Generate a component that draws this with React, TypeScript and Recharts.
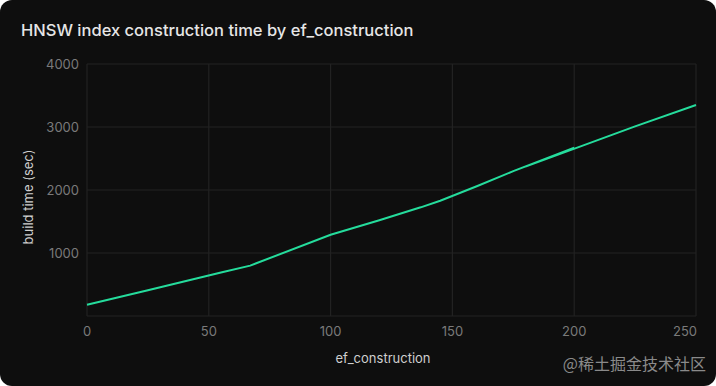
import { LineChart, Line, XAxis, YAxis, CartesianGrid } from 'recharts';

// ef_construction values, in the order the run logged them
const efValues = [0, 25, 55, 67, 100, 120, 137, 145, 160, 175, 200, 180, 225, 250];
// build time in seconds for each ef value above
const buildSeconds = [180, 410, 690, 800, 1290, 1520, 1725, 1830, 2060, 2300, 2670, 2372, 3010, 3350];

const xTicks = [0, 50, 100, 150, 200, 250];
const yTicks = [0, 1000, 2000, 3000, 4000];

const chartData = efValues.map((ef, i) => ({ ef, seconds: buildSeconds[i] }));

const tickColor = '#7a7a7a';
const gridColor = '#222222';

function XTick(props: any) {
  const { x, y, payload, index, visibleTicksCount } = props;
  const last = index === visibleTicksCount - 1;
  return (
    <text
      x={last ? x + 1 : x}
      y={y}
      dy="0.71em"
      textAnchor={last ? 'end' : 'middle'}
      fill={tickColor}
      fontSize={13}
      fontFamily="Inter, sans-serif"
    >
      {payload.value}
    </text>
  );
}

export default function App() {
  return (
    <div style={{ position: 'relative', width: 716, height: 386, background: '#fff' }}>
      <style>{`body { margin: 0; }`}</style>
      <div
        style={{
          position: 'absolute',
          inset: 0,
          background: '#0e0e0e',
          borderRadius: 12,
          overflow: 'hidden',
          fontFamily: 'Inter, sans-serif',
        }}
      >
        <div style={{ position: 'absolute', left: 21, top: 20, fontSize: 16.5, fontWeight: 500, color: '#e6e6e6' }}>
          HNSW index construction time by ef_construction
        </div>
        <LineChart width={716} height={386} data={chartData} margin={{ top: 64, right: 20, bottom: 30, left: 0 }}>
          <CartesianGrid stroke={gridColor} strokeWidth={1.2} />
          <XAxis
            type="number"
            dataKey="ef"
            domain={[0, 250]}
            ticks={xTicks}
            height={40}
            axisLine={false}
            tickLine={false}
            tickMargin={5}
            tick={<XTick />}
          />
          <YAxis
            type="number"
            domain={[0, 4000]}
            ticks={yTicks}
            width={87}
            axisLine={false}
            tickLine={false}
            tickFormatter={(v: number) => (v === 0 ? '' : String(v))}
            tick={{ fill: tickColor, fontSize: 13, fontFamily: 'Inter, sans-serif' }}
          />
          <Line
            type="linear"
            dataKey="seconds"
            stroke="#25dc9c"
            strokeWidth={2}
            dot={false}
            isAnimationActive={false}
          />
        </LineChart>
        <div
          style={{
            position: 'absolute',
            left: 28,
            top: 197,
            transform: 'translate(-50%, -50%) rotate(-90deg)',
            whiteSpace: 'nowrap',
            fontSize: 13,
            color: '#cfcfcf',
          }}
        >
          build time (sec)
        </div>
        <div
          style={{
            position: 'absolute',
            left: 383,
            top: 358,
            transform: 'translate(-50%, -50%)',
            whiteSpace: 'nowrap',
            fontSize: 13,
            color: '#cfcfcf',
          }}
        >
          ef_construction
        </div>
        <div
          style={{
            position: 'absolute',
            right: 10,
            top: 363,
            transform: 'translateY(-50%)',
            whiteSpace: 'nowrap',
            fontSize: 16,
            color: '#8a8a8a',
            fontFamily: '"Noto Sans CJK SC", sans-serif',
          }}
        >
          @稀土掘金技术社区
        </div>
      </div>
    </div>
  );
}
